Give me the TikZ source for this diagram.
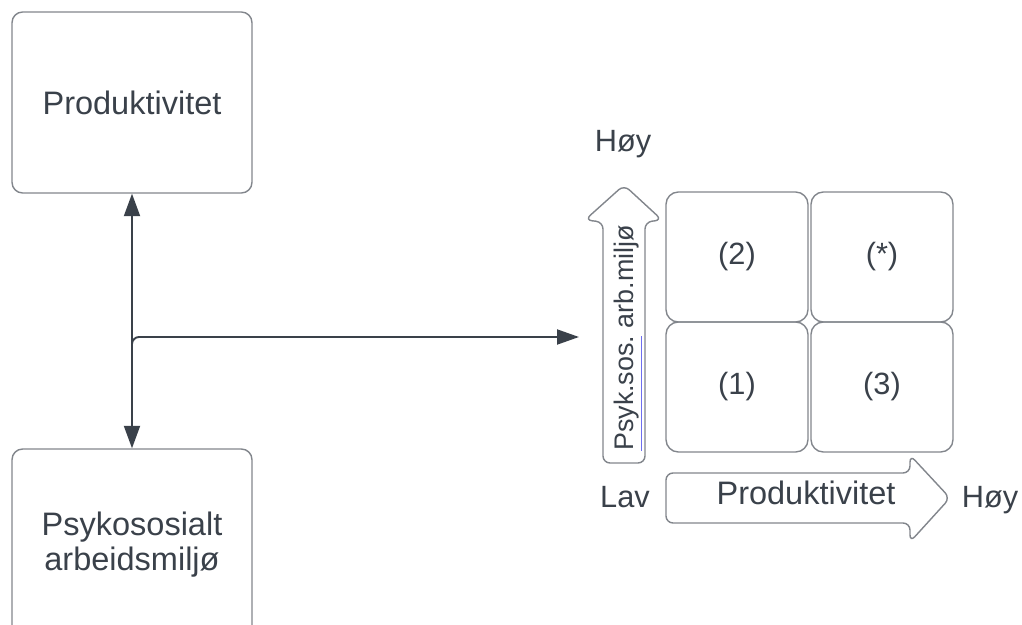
\documentclass[tikz,border=0pt]{standalone}
\usepackage{fontspec}
\setmainfont{Liberation Sans}
\usepackage{tikz}
\usetikzlibrary{arrows.meta}
\definecolor{inkgray}{RGB}{58, 65, 74}
\definecolor{edgegray}{RGB}{130, 134, 140}
\definecolor{spellblue}{RGB}{110, 110, 240}

\begin{document}
\begin{tikzpicture}[
        x=0.02cm, y=-0.02cm,
        every node/.style={text=inkgray, font=\fontsize{18.5}{22}\selectfont},
        box/.style={draw=edgegray, line width=0.8pt, rounded corners=6pt,
            minimum width=4.8cm, align=center},
        cell/.style={draw=edgegray, line width=0.8pt, rounded corners=7pt,
            minimum width=2.84cm, minimum height=2.6cm,
            font=\fontsize{17.5}{21}\selectfont},
        pil/.style={draw=edgegray, line width=0.8pt, rounded corners=4pt},
        lbl/.style={font=\fontsize{17.5}{21}\selectfont},
        link/.style={draw=inkgray, line width=1.1pt},
        >={Triangle[length=0.45cm, width=0.32cm]}
    ]
    \useasboundingbox (0,0) rectangle (1022,625);

    \node[box, minimum height=3.62cm] (prod) at (132,102.5) {Produktivitet};
    \node[box, minimum height=3.84cm] (psyk) at (132,545)
        {Psykososialt\\[-2pt]arbeidsmiljø};

    \node[cell] (c2) at (737,257) {(2)};
    \node[cell] (cs) at (882,257) {(*)};
    \node[cell] (c1) at (737,387) {(1)};
    \node[cell] (c3) at (882,387) {(3)};

    \draw[pil] (645,222) -- (662,220) -- (624,185) -- (585,220) -- (603,222)
        -- (603,463) -- (645,463) -- cycle;
    \node[rotate=90, anchor=base, font=\fontsize{15.3}{18}\selectfont] (ylab) at (633,338)
        {\textcolor{spellblue}{\underline{\textcolor{inkgray}{Psyk.sos.}}} arb.miljø};

    \draw[pil] (666,473) -- (910,473) -- (910,455) -- (950,498) -- (910,542)
        -- (910,523) -- (666,523) -- cycle;
    \node (xlab) at (806,493) {Produktivitet};

    \node[lbl] (lav) at (625,497) {Lav};
    \node[lbl] (hoyx) at (990,500) {Høy};
    \node[lbl] (hoyy) at (623,144) {Høy};

    \coordinate (junc) at (132,337);
    \coordinate (tgt) at (579,337);
    \draw[link, <->] (prod.south) -- (psyk.north);
    \draw[link, -{Triangle[length=0.44cm, width=0.3cm]}, rounded corners=4pt]
        ([yshift=-0.3cm]junc) -- (junc) -- (tgt);
\end{tikzpicture}
\end{document}
